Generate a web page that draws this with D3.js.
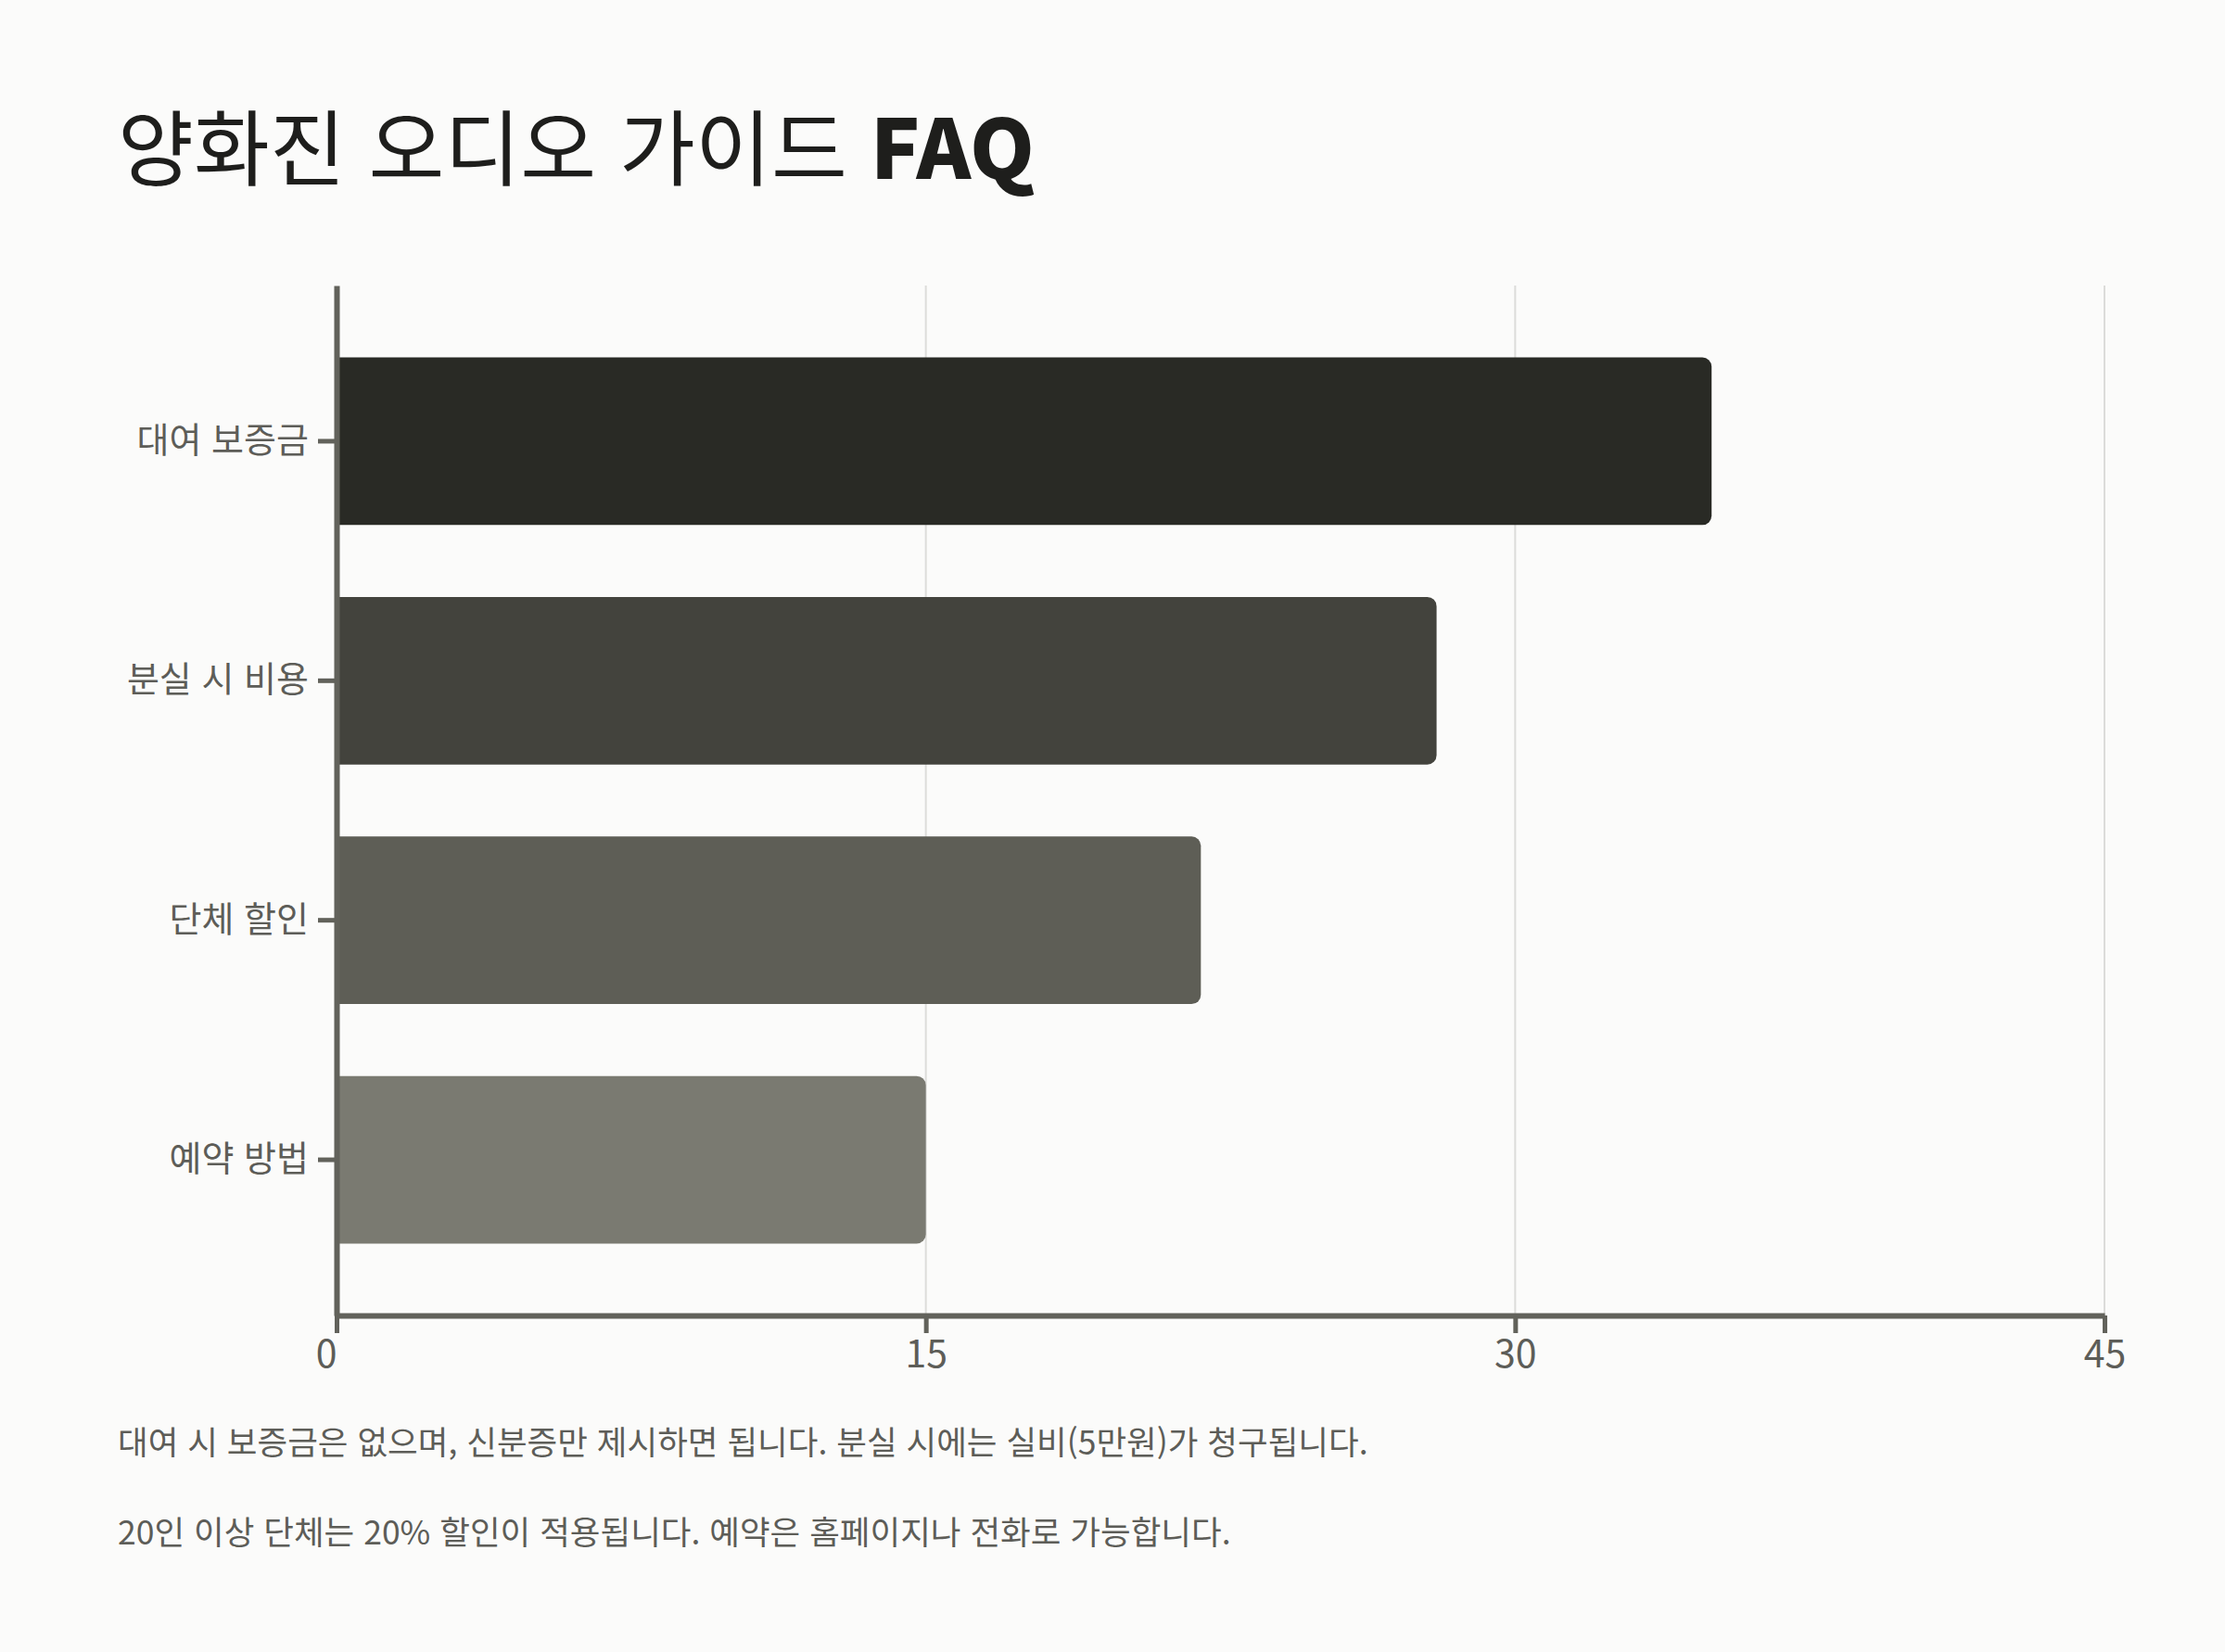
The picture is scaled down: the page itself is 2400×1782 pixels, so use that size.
<!DOCTYPE html>
<html lang="ko">
<head>
<meta charset="utf-8">
<title>양화진 오디오 가이드 FAQ</title>
<script src="https://cdn.jsdelivr.net/npm/d3@7"></script>
<style>
  html, body { margin: 0; padding: 0; background: #fbfbfa; }
  svg { display: block; }
  text { font-family: "Noto Sans CJK KR", "Noto Sans", sans-serif; }
</style>
</head>
<body>
<svg id="chart" width="2400" height="1782"></svg>
<script>
// FAQ topics and their bar lengths
const categories = ["대여 보증금", "분실 시 비용", "단체 할인", "예약 방법"];
const values = [35, 28, 22, 15];
const barColors = ["#292a25", "#43433d", "#5e5e56", "#7a7a71"];
const xTicks = [0, 15, 30, 45];
const notes = [
  "대여 시 보증금은 없으며, 신분증만 제시하면 됩니다. 분실 시에는 실비(5만원)가 청구됩니다.",
  "20인 이상 단체는 20% 할인이 적용됩니다. 예약은 홈페이지나 전화로 가능합니다."
];

const W = 2400, H = 1782;
const margin = { top: 308, right: 130, bottom: 363, left: 363 };
const innerW = W - margin.left - margin.right;   // 0..45 spans 1907px
const innerH = H - margin.top - margin.bottom;

const axisColor = "#62625b";
const labelColor = "#5d5d58";

const svg = d3.select("#chart");
svg.append("rect").attr("width", W).attr("height", H).attr("fill", "#fbfbfa");

// Title
const title = svg.append("text")
  .attr("x", 127).attr("y", 193)
  .attr("font-size", 89)
  .attr("fill", "#1e1e1c");
title.append("tspan").attr("font-weight", 400).text("양화진 오디오 가이드 ");
title.append("tspan").attr("font-weight", 900).text("FAQ");

const g = svg.append("g").attr("transform", `translate(${margin.left},${margin.top})`);

const x = d3.scaleLinear().domain([0, 45]).range([0, innerW]);
const y = d3.scaleBand().domain(categories).range([0, innerH]).paddingInner(0.3).paddingOuter(0.3);

// Vertical grid lines
g.append("g").selectAll("line").data(xTicks.filter(t => t > 0)).join("line")
  .attr("x1", d => x(d)).attr("x2", d => x(d))
  .attr("y1", 0).attr("y2", innerH)
  .attr("stroke", "#dcdcda").attr("stroke-width", 2);

// Bars with rounded right ends
const r = 10;
function barPath(v, top, h) {
  const x0 = x(0), x1 = x(v), rr = Math.min(r, (x1 - x0) / 2, h / 2);
  return `M${x0},${top}H${x1 - rr}A${rr},${rr} 0 0 1 ${x1},${top + rr}` +
         `V${top + h - rr}A${rr},${rr} 0 0 1 ${x1 - rr},${top + h}H${x0}Z`;
}
g.append("g").selectAll("path").data(categories).join("path")
  .attr("d", (c, i) => barPath(values[i], y(c), y.bandwidth()))
  .attr("fill", (c, i) => barColors[i]);

// X axis
const xAxis = g.append("g")
  .attr("transform", `translate(0,${innerH})`)
  .call(d3.axisBottom(x).tickValues(xTicks).tickSize(19).tickSizeOuter(0).tickPadding(8));
xAxis.select(".domain").attr("stroke", axisColor).attr("stroke-width", 6);
xAxis.selectAll(".tick line").attr("stroke", axisColor).attr("stroke-width", 5);
xAxis.selectAll(".tick text")
  .attr("font-size", 41).attr("fill", labelColor)
  .attr("font-family", "\"Noto Sans\", sans-serif")
  .attr("text-anchor", d => d === 0 ? "end" : "middle");

// Y axis
const yAxis = g.append("g")
  .call(d3.axisLeft(y).tickSize(20).tickSizeOuter(0).tickPadding(10));
yAxis.select(".domain").attr("stroke", axisColor).attr("stroke-width", 6);
yAxis.selectAll(".tick line").attr("stroke", axisColor).attr("stroke-width", 5);
yAxis.selectAll(".tick text")
  .attr("font-size", 38).attr("fill", labelColor);

// Notes below the chart
svg.append("g").selectAll("text").data(notes).join("text")
  .attr("x", 127)
  .attr("y", (d, i) => 1569 + i * 97)
  .attr("font-size", 35.5)
  .attr("fill", labelColor)
  .text(d => d);
</script>
</body>
</html>
